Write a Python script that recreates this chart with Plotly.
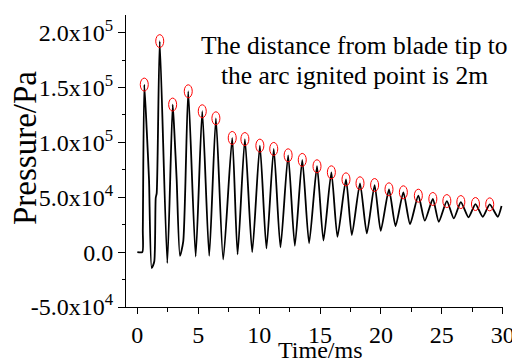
import plotly.graph_objects as go

# Waveform key points (time in ms, pressure in Pa)
wave_t = [0.0, 0.41, 0.45, 0.57, 0.77, 0.96, 1.18, 1.39, 1.51, 1.59, 1.84,
          2.46, 2.90, 3.03, 3.23, 3.50, 3.77, 4.18, 4.79, 5.33, 5.90,
          6.45, 7.05, 7.79, 8.23, 8.83, 9.43, 10.06, 10.60, 11.20, 11.75,
          12.38, 12.93, 13.54, 14.10, 14.75, 15.28, 15.93, 16.43, 17.13, 17.61,
          18.28, 18.84, 19.48, 19.98, 20.66, 21.20, 21.84, 22.39, 23.07, 23.60,
          24.26, 24.75, 25.41, 25.98, 26.56, 27.19, 27.76, 28.36, 28.93, 29.59,
          29.90]
wave_p = [0, 0, 20000, 152600, 111600, 66000, -14600, -8600, 49300, 53800, 192200,
          -10000, 134400, 111600, 66000, -3500, 9700, 146500, -4000, 128300, -3500,
          121900, -6700, 104000, -2100, 103000, 0, 97000, 3400, 94000, 4300,
          88200, 5800, 84000, 8000, 78200, 10500, 72700, 14000, 66300, 15500,
          62700, 17000, 61100, 19400, 57200, 23700, 54500, 25500, 51400, 28600,
          48400, 27600, 46500, 30700, 45600, 31700, 43800, 32200, 43500, 32200,
          42000]

# Circled peaks
peak_t = [0.57, 1.84, 2.90, 4.18, 5.33, 6.45, 7.79, 8.83, 10.06, 11.20, 12.38,
          13.54, 14.75, 15.93, 17.13, 18.28, 19.48, 20.66, 21.84, 23.07, 24.26,
          25.41, 26.56, 27.76, 28.93]
peak_p = [152600, 192200, 134400, 146500, 128300, 121900, 104000, 103000, 97000,
          94000, 88200, 84000, 78200, 72700, 66300, 62700, 61100, 57200, 54500,
          51400, 48400, 46500, 45600, 43800, 43500]

x_ticks = [0, 5, 10, 15, 20, 25, 30]
x_minor = [2.5, 7.5, 12.5, 17.5, 22.5, 27.5]
y_ticks = [-50000, 0, 50000, 100000, 150000, 200000]
y_ticktext = ["-5.0x10<sup>4</sup>", "0.0", "5.0x10<sup>4</sup>",
              "1.0x10<sup>5</sup>", "1.5x10<sup>5</sup>", "2.0x10<sup>5</sup>"]

FONT = "Liberation Serif, Times New Roman, serif"
L, R, T, B = 126, 9, 15, 55
W, H = 512, 362
PW, PH = W - L - R, H - T - B


def px(xp):
    return (xp - L) / PW


def py(yp):
    return (H - B - yp) / PH


fig = go.Figure()
fig.add_trace(go.Scatter(x=wave_t, y=wave_p, mode="lines",
                         line=dict(color="black", width=1.8, shape="spline", smoothing=0.6),
                         hoverinfo="skip", showlegend=False))

for t, p in zip(peak_t, peak_p):
    fig.add_shape(type="circle", xref="x", yref="y",
                  xsizemode="pixel", ysizemode="pixel",
                  xanchor=t, yanchor=p, x0=-4, x1=4, y0=-6.5, y1=6.5,
                  line=dict(color="red", width=1))

fig.add_annotation(text="The distance from blade tip to", xref="paper", yref="paper",
                   x=px(354), y=py(46), xanchor="center", yanchor="middle",
                   showarrow=False, font=dict(family=FONT, size=25.5, color="black"))
fig.add_annotation(text="the arc ignited point is 2m", xref="paper", yref="paper",
                   x=px(354), y=py(76), xanchor="center", yanchor="middle",
                   showarrow=False, font=dict(family=FONT, size=25.5, color="black"))
fig.add_annotation(text="Time/ms", xref="paper", yref="paper",
                   x=px(320), y=py(350), xanchor="center", yanchor="middle",
                   showarrow=False, borderpad=0,
                   font=dict(family=FONT, size=24, color="black"))
fig.add_annotation(text="Pressure/Pa", xref="paper", yref="paper",
                   x=px(25), y=py(148), xanchor="center", yanchor="middle",
                   textangle=-90, showarrow=False,
                   font=dict(family=FONT, size=33, color="black"))

fig.update_xaxes(range=[-0.93, 30.02], tickmode="array", tickvals=x_ticks,
                 ticks="outside", ticklen=6, tickwidth=1, tickcolor="black",
                 ticklabeloverflow="allow", automargin=False,
                 minor=dict(tickvals=x_minor, ticks="outside", ticklen=4,
                            tickcolor="black"),
                 showline=True, linecolor="black", linewidth=1, mirror=False,
                 showgrid=False, zeroline=False,
                 tickfont=dict(family=FONT, size=24, color="black"))
fig.update_yaxes(range=[-50000, 216000], tickmode="array", tickvals=y_ticks,
                 ticktext=y_ticktext,
                 ticks="outside", ticklen=7, tickwidth=1, tickcolor="black",
                 ticklabeloverflow="allow", automargin=False,
                 minor=dict(dtick=25000, ticks="outside", ticklen=3, tickcolor="black"),
                 showline=True, linecolor="black", linewidth=1, mirror=False,
                 showgrid=False, zeroline=False,
                 tickfont=dict(family=FONT, size=24, color="black"))

fig.update_layout(width=W, height=H, margin=dict(l=L, r=R, t=T, b=B),
                  font=dict(family=FONT, color="black"),
                  paper_bgcolor="white", plot_bgcolor="white", showlegend=False)

fig.write_html("out.html")
